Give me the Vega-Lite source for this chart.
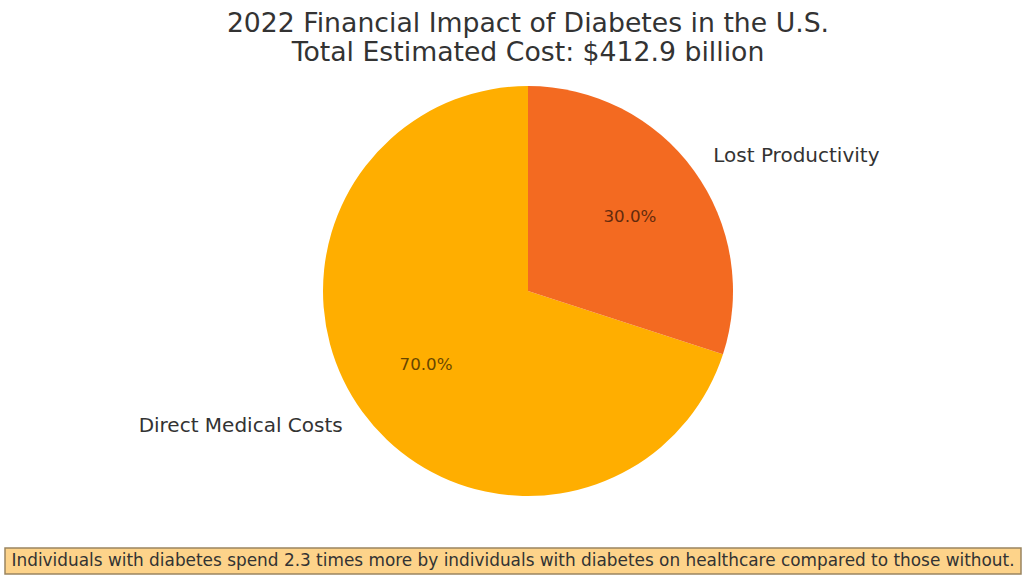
{
  "$schema": "https://vega.github.io/schema/vega-lite/v6.json",
  "autosize": {"type": "pad"},
  "padding": {"left": 4, "right": -26, "top": 11, "bottom": 10},
  "spacing": 46,
  "background": "white",
  "config": {"view": {"stroke": null}, "font": "DejaVu Sans"},
  "datasets": {
    "costs": [
      {"category": "Direct Medical Costs", "share": 0.70},
      {"category": "Lost Productivity", "share": 0.30}
    ],
    "note": [
      {"note": "Individuals with diabetes spend 2.3 times more by individuals with diabetes on healthcare compared to those without."}
    ]
  },
  "vconcat": [
    {
      "width": 1046,
      "height": 420,
      "title": {
        "text": ["2022 Financial Impact of Diabetes in the U.S.", "Total Estimated Cost: $412.9 billion"],
        "fontSize": 26.7,
        "font": "DejaVu Sans",
        "fontWeight": "normal",
        "color": "#333333",
        "lineHeight": 29,
        "offset": 14,
        "anchor": "middle",
        "frame": "group"
      },
      "data": {"name": "costs"},
      "encoding": {
        "theta": {"field": "share", "type": "quantitative", "stack": true},
        "order": {"field": "share", "sort": "ascending"}
      },
      "layer": [
        {
          "mark": {"type": "arc", "outerRadius": 205},
          "encoding": {
            "color": {
              "field": "category",
              "type": "nominal",
              "scale": {"domain": ["Lost Productivity", "Direct Medical Costs"], "range": ["#F36A21", "#FFAE00"]},
              "legend": null
            }
          }
        },
        {
          "mark": {"type": "text", "radius": 126, "fontSize": 16.7, "color": "#000000", "opacity": 0.6, "baseline": "middle", "align": "center"},
          "encoding": {
            "text": {"field": "share", "type": "quantitative", "format": ".1%"},
            "detail": {"field": "category", "type": "nominal"}
          }
        },
        {
          "mark": {
            "type": "text",
            "radius": 229,
            "fontSize": 20,
            "color": "#333333",
            "baseline": "middle",
            "align": {"expr": "datum.category === 'Lost Productivity' ? 'left' : 'right'"}
          },
          "encoding": {
            "text": {"field": "category", "type": "nominal"},
            "detail": {"field": "category", "type": "nominal"}
          }
        }
      ]
    },
    {
      "width": 1016,
      "height": 26,
      "view": {"fill": "#FDD38A", "stroke": "#9A8560", "strokeWidth": 1.5},
      "data": {"name": "note"},
      "mark": {"type": "text", "fontSize": 16.9, "color": "#333333", "baseline": "middle", "align": "center"},
      "encoding": {
        "text": {"field": "note", "type": "nominal"}
      }
    }
  ]
}
